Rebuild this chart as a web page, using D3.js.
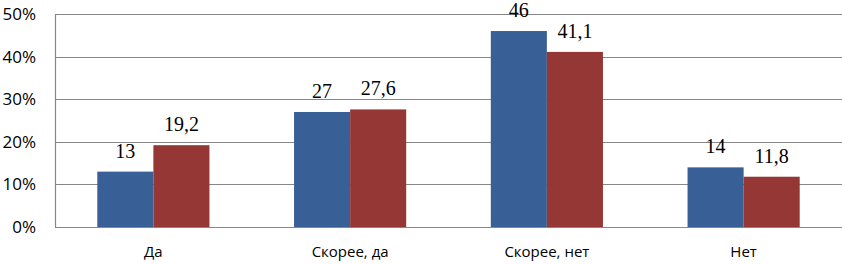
<!DOCTYPE html>
<html>
<head>
<meta charset="utf-8">
<script src="https://cdn.jsdelivr.net/npm/d3@7"></script>
<style>
  body { margin: 0; background: #fff; }
  svg { display: block; }
</style>
</head>
<body>
<div id="content"></div>
<script>
// Chart data.
var categories = ["Да", "Скорее, да", "Скорее, нет", "Нет"];
var series1 = [13, 27, 46, 14];
var series2 = [19.2, 27.6, 41.1, 11.8];
var labels1 = ["13", "27", "46", "14"];
var labels2 = ["19,2", "27,6", "41,1", "11,8"];
var yTicks = [0, 10, 20, 30, 40, 50];

var colors = ["#386096", "#953735"];

// Main SVG container.
var W = 842, H = 264;
var margin = {left : 55, right : 0, top : 14, bottom : 37};
var width = W - margin.left - margin.right;
var height = H - margin.top - margin.bottom;

var svg = d3.select('#content')
              .append('svg')
              .attr('width', W)
              .attr('height', H);

var g = svg.append('g').attr('transform', 'translate(' + margin.left + ',' +
                                              margin.top + ')');

var scaleY = d3.scaleLinear().domain([ 0, 50 ]).range([ height, 0 ]);
var scaleX = d3.scaleBand().domain(categories).range([ 0, width ]);
// bar width inside each band
var barW = scaleX.bandwidth() * 0.285;

// Gridlines.
g.selectAll('line.grid')
    .data(yTicks)
    .enter()
    .append('line')
    .attr('class', 'grid')
    .attr('x1', 0)
    .attr('x2', width)
    .attr('y1', function(d) { return Math.round(scaleY(d)) + 0.5; })
    .attr('y2', function(d) { return Math.round(scaleY(d)) + 0.5; })
    .style('stroke', '#878787')
    .style('stroke-width', 1.2);

// Left axis line.
g.append('line')
    .attr('x1', 0.5).attr('x2', 0.5)
    .attr('y1', scaleY(50)).attr('y2', scaleY(0))
    .style('stroke', '#878787')
    .style('stroke-width', 1.2);

// Y tick labels.
g.selectAll('text.ytick')
    .data(yTicks)
    .enter()
    .append('text')
    .attr('class', 'ytick')
    .attr('x', -19)
    .attr('y', function(d) { return scaleY(d); })
    .attr('dy', '0.35em')
    .attr('text-anchor', 'end')
    .style('font-family', 'Open Sans, Liberation Sans, sans-serif')
    .style('font-size', '17px')
    .style('fill', '#000')
    .text(function(d) { return d + '%'; });

// X category labels.
g.selectAll('text.xtick')
    .data(categories)
    .enter()
    .append('text')
    .attr('class', 'xtick')
    .attr('x', function(d) { return scaleX(d) + scaleX.bandwidth() / 2; })
    .attr('y', height + 30)
    .attr('text-anchor', 'middle')
    .style('font-family', 'Open Sans, Liberation Sans, sans-serif')
    .style('font-size', '15px')
    .style('fill', '#000')
    .text(function(d) { return d; });

// Draw the bars for each series.
var seriesList = [ series1, series2 ];
var labelList = [ labels1, labels2 ];
seriesList.forEach(function(vals, s) {
  var xOff = function(i) {
    return scaleX(categories[i]) + scaleX.bandwidth() / 2 + (s - 1) * barW;
  };
  g.selectAll('rect.s' + s)
      .data(vals)
      .enter()
      .append('rect')
      .attr('class', 's' + s)
      .attr('x', function(d, i) { return xOff(i); })
      .attr('y', function(d) { return scaleY(d); })
      .attr('width', barW)
      .attr('height', function(d) { return height - scaleY(d); })
      .style('fill', colors[s]);

  g.selectAll('text.l' + s)
      .data(vals)
      .enter()
      .append('text')
      .attr('class', 'l' + s)
      .attr('x', function(d, i) { return xOff(i) + barW / 2; })
      .attr('y', function(d) { return scaleY(d) - 14; })
      .attr('text-anchor', 'middle')
      .style('font-family', 'Liberation Serif, Times New Roman, serif')
      .style('font-size', '20px')
      .style('fill', '#000')
      .text(function(d, i) { return labelList[s][i]; });
});
</script>
</body>
</html>
